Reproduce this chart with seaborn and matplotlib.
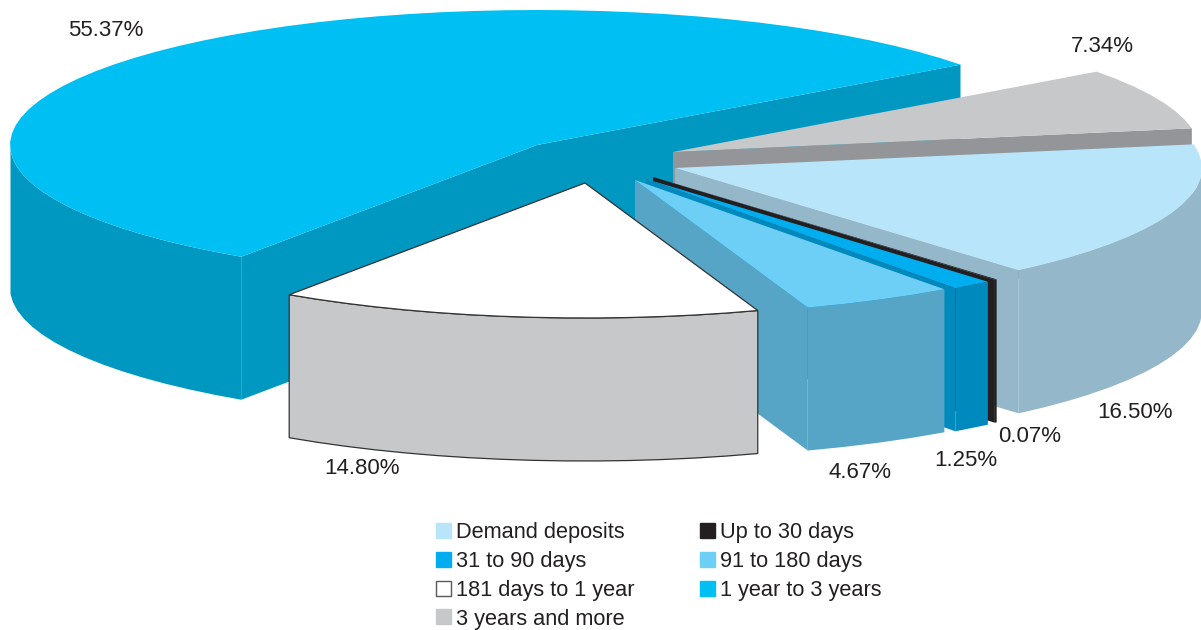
import numpy as np
import pandas as pd
import seaborn as sns
import matplotlib.pyplot as plt
from matplotlib.patches import Patch

# maturity split, clockwise, starting from demand deposits
categories = ['Demand deposits', 'Up to 30 days', '31 to 90 days', '91 to 180 days',
              '181 days to 1 year', '1 year to 3 years', '3 years and more']
shares = [16.50, 0.07, 1.25, 4.67, 14.80, 55.37, 7.34]
share_labels = ['16.50%', '0.07%', '1.25%', '4.67%', '14.80%', '55.37%', '7.34%']

top_colors = ['#b9e5fb', '#231f20', '#00aeef', '#6dcff6', '#ffffff', '#00bff3', '#c7c8ca']
side_colors = ['#94b7ca', '#231f20', '#0089bc', '#57a5c6', '#c7c8ca', '#0098c1', '#939598']

# pixel layout of the exploded slices
centre_x = [675, 653, 646, 635, 585, 537, 673]
centre_y = [168, 177, 179, 180, 183, 145, 152]
label_x = [1135, 1030, 966, 860, 362, 106, 1102]
label_y = [412, 437, 461, 473, 469, 31, 47]
draw_order = [5, 6, 0, 1, 2, 3, 4]

RX, RY = 527, 135
DEPTH = 143
START = 10.1

sns.set_theme(style='white')
plt.rcParams['font.family'] = ['Liberation Sans', 'DejaVu Sans']

df = pd.DataFrame({'category': categories, 'share': shares, 'top': top_colors,
                   'side': side_colors, 'cx': centre_x, 'cy': centre_y})
df['end'] = START - df['share'].cumsum() * 3.6
df['start'] = df['end'] + df['share'] * 3.6

palette = sns.color_palette(top_colors)

fig, ax = plt.subplots(figsize=(12.01, 6.30), dpi=100)
fig.subplots_adjust(0, 0, 1, 1)
ax.set_xlim(0, 1201)
ax.set_ylim(630, 0)
ax.set_axis_off()


def point(row, angle):
    rad = np.radians(angle)
    return row['cx'] + RX * np.cos(rad), row['cy'] - RY * np.sin(rad)


def wall(row, xs, ys, **kw):
    xs, ys = np.asarray(xs), np.asarray(ys)
    ax.fill(np.r_[xs, xs[::-1]], np.r_[ys, ys[::-1] + DEPTH], color=row['side'], **kw)


for i in draw_order:
    row = df.iloc[i]
    outline = {'ec': '#333333', 'lw': 0.9} if row['top'] == '#ffffff' else {'lw': 0}

    # radial faces turned to the viewer
    for angle, visible in ((row['start'], np.cos(np.radians(row['start'])) < 0),
                           (row['end'], np.cos(np.radians(row['end'])) > 0)):
        if visible:
            x, y = point(row, angle)
            wall(row, [row['cx'], x], [row['cy'], y], lw=0)

    # rim, slightly faceted like the source artwork
    steps = max(int((row['start'] - row['end']) / 3.5), 1)
    angles = np.linspace(row['start'], row['end'], steps + 1)
    xs, ys = point(row, angles)
    front = np.sin(np.radians(angles)) < 0
    if front.sum() > 1:
        wall(row, xs[front], ys[front], **outline)

    ax.fill(np.r_[row['cx'], xs], np.r_[row['cy'], ys], color=row['top'], **outline)

for text, x, y in zip(share_labels, label_x, label_y):
    ax.text(x, y, text, ha='center', va='center', fontsize=16, color='#231f20')

# matplotlib fills legend columns first, the source reads across rows
legend_order = [0, 2, 4, 6, 1, 3, 5]
handles = [Patch(facecolor=palette[i],
                 edgecolor='#58595b' if categories[i] == '181 days to 1 year' else palette[i],
                 lw=1, label=categories[i]) for i in legend_order]
ax.legend(handles=handles, ncol=2, loc='upper left', bbox_to_anchor=(436, 522),
          bbox_transform=ax.transData, frameon=False, fontsize=15.7,
          handlelength=0.68, handleheight=0.68, handletextpad=0.25,
          labelspacing=0.36, columnspacing=3.0, borderpad=0, borderaxespad=0,
          labelcolor='#231f20')

plt.savefig('out.png', dpi=100)
